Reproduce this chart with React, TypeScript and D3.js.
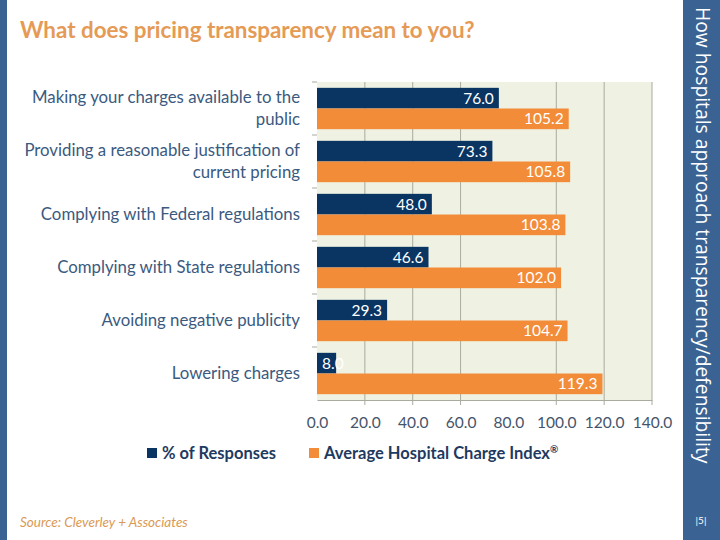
import React, { useEffect, useRef } from 'react';
import * as d3 from 'd3';

const categories: string[][] = [
    ['Making your charges available to the', 'public'],
    ['Providing a reasonable justification of', 'current pricing'],
    ['Complying with Federal regulations'],
    ['Complying with State regulations'],
    ['Avoiding negative publicity'],
    ['Lowering charges'],
];
const responses = [76.0, 73.3, 48.0, 46.6, 29.3, 8.0];
const chargeIndex = [105.2, 105.8, 103.8, 102.0, 104.7, 119.3];
const seriesNames = ['% of Responses', 'Average Hospital Charge Index'];
const xTicks = [0, 20, 40, 60, 80, 100, 120, 140];
// the 80 line is not drawn on this chart
const gridTicks = [20, 40, 60, 100, 120, 140];

const NAVY = '#0a3563';
const ORANGE = '#f28c38';
const SLATE = '#3b5a80';
const BAND = '#3a6394';
const GRID = '#a9ab9e';
const FONT = 'Lato, "Open Sans", sans-serif';

const App: React.FC = () => {
    const svgRef = useRef<SVGSVGElement>(null);

    useEffect(() => {
        if (!svgRef.current) return;
        const svg = d3.select(svgRef.current);
        svg.selectAll('*').remove();

        const width = 720;
        const height = 540;
        const plot = { left: 317, right: 652, top: 82, bottom: 400 };

        svg.append('rect').attr('width', width).attr('height', height).attr('fill', '#ffffff');

        // side strips
        svg.append('rect').attr('x', 0).attr('y', 0).attr('width', 7).attr('height', height).attr('fill', BAND);
        svg.append('rect').attr('x', 683).attr('y', 0).attr('width', width - 683).attr('height', height).attr('fill', BAND);

        svg.append('text')
            .attr('transform', 'translate(701,7) rotate(90)')
            .attr('fill', 'white')
            .attr('font-family', '"Open Sans", sans-serif')
            .attr('font-size', '19.3px')
            .attr('dominant-baseline', 'middle')
            .text('How hospitals approach transparency/defensibility');

        svg.append('text')
            .attr('x', 701).attr('y', 524)
            .attr('fill', 'white')
            .attr('font-family', FONT)
            .attr('font-size', '10px')
            .attr('text-anchor', 'middle')
            .text('|5|');

        // title
        svg.append('text')
            .attr('x', 20).attr('y', 38)
            .attr('fill', '#e59a55')
            .attr('font-family', FONT)
            .attr('font-weight', 'bold')
            .attr('font-size', '22.4px')
            .text('What does pricing transparency mean to you?');

        // source
        svg.append('text')
            .attr('x', 20).attr('y', 527)
            .attr('fill', '#d99a55')
            .attr('font-family', FONT)
            .attr('font-style', 'italic')
            .attr('font-size', '13.5px')
            .text('Source: Cleverley + Associates');

        const x = d3.scaleLinear().domain([0, 140]).range([plot.left, plot.right]);
        const y = d3.scaleBand<number>()
            .domain(d3.range(categories.length))
            .range([plot.top, plot.bottom])
            .paddingInner(0.22)
            .paddingOuter(0.11);
        const sub = d3.scaleBand<number>().domain([0, 1]).range([0, y.bandwidth()]);

        // plot background and grid
        svg.append('rect')
            .attr('x', plot.left).attr('y', plot.top)
            .attr('width', plot.right - plot.left).attr('height', plot.bottom - plot.top)
            .attr('fill', '#eff2e3');

        svg.append('g')
            .selectAll('line')
            .data(gridTicks)
            .join('line')
            .attr('x1', d => x(d)).attr('x2', d => x(d))
            .attr('y1', plot.top).attr('y2', plot.bottom + 5)
            .attr('stroke', GRID)
            .attr('stroke-width', 1);

        // x axis
        const xAxis = svg.append('g')
            .attr('transform', `translate(0,${plot.bottom})`)
            .call(d3.axisBottom(x).tickValues(xTicks).tickFormat(d3.format('.1f')).tickSizeOuter(0).tickSize(0).tickPadding(17));
        xAxis.select('.domain').attr('stroke', GRID);
        xAxis.selectAll('.tick text')
            .attr('fill', '#44546a')
            .attr('font-family', FONT)
            .attr('font-size', '15.5px');

        // category separators on the left
        const seps = d3.range(categories.length).map(i => plot.top + i * (plot.bottom - plot.top) / categories.length);
        svg.append('g')
            .selectAll('line')
            .data(seps)
            .join('line')
            .attr('x1', plot.left - 5).attr('x2', plot.left)
            .attr('y1', d => d).attr('y2', d => d)
            .attr('stroke', GRID);

        // category labels
        const catG = svg.append('g');
        categories.forEach((lines, i) => {
            const cy = (y(i) as number) + y.bandwidth() / 2;
            const lh = 22;
            const t = catG.append('text')
                .attr('x', 300)
                .attr('text-anchor', 'end')
                .attr('fill', SLATE)
                .attr('font-family', FONT)
                .attr('font-size', '16.8px');
            lines.forEach((ln, j) => {
                t.append('tspan')
                    .attr('x', 300)
                    .attr('y', cy - (lines.length - 1) * lh / 2 + j * lh)
                    .attr('dy', '0.35em')
                    .text(ln);
            });
        });

        // bars
        const series = [responses, chargeIndex];
        const colors = [NAVY, ORANGE];
        series.forEach((vals, s) => {
            const g = svg.append('g');
            g.selectAll('rect')
                .data(vals)
                .join('rect')
                .attr('x', x(0))
                .attr('y', (_, i) => (y(i) as number) + (sub(s) as number))
                .attr('width', d => x(d) - x(0))
                .attr('height', sub.bandwidth())
                .attr('fill', colors[s]);

            const labels = g.selectAll('text')
                .data(vals)
                .join('text')
                .attr('y', (_, i) => (y(i) as number) + (sub(s) as number) + sub.bandwidth() / 2)
                .attr('dy', '0.36em')
                .attr('fill', 'white')
                .attr('font-family', FONT)
                .attr('font-size', '15.5px')
                .text(d => d.toFixed(1));

            // right-aligned inside the bar end, pushed to the base when it doesn't fit
            labels.each(function (d) {
                const el = this as SVGTextElement;
                const w = el.getComputedTextLength();
                const xr = x(d) - 5 - w;
                el.setAttribute('x', String(Math.max(xr, x(0) + 5)));
            });
        });

        // legend
        const legend = svg.append('g').attr('font-family', FONT).attr('font-weight', 'bold').attr('font-size', '16.5px');
        const legendX = [147, 309];
        seriesNames.forEach((name, s) => {
            legend.append('rect')
                .attr('x', legendX[s]).attr('y', 448)
                .attr('width', 10).attr('height', 10)
                .attr('fill', colors[s]);
            const t = legend.append('text')
                .attr('x', legendX[s] + 15).attr('y', 459)
                .attr('fill', '#1f3a60')
                .text(name);
            if (s === 1) {
                t.append('tspan').attr('font-size', '10px').attr('dy', '-6').text('®');
            }
        });
    }, []);

    return (
        <div style={{ position: 'absolute', left: 0, top: 0 }}>
            <svg ref={svgRef} width={720} height={540} style={{ display: 'block' }} />
        </div>
    );
};

export default App;
